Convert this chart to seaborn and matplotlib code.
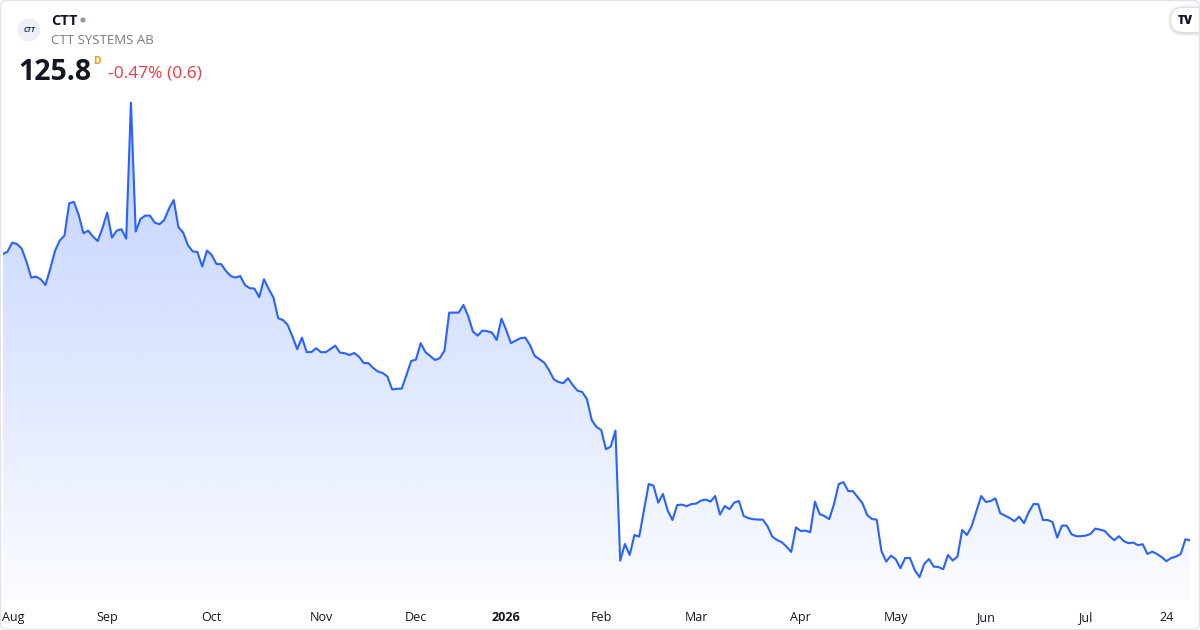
import matplotlib
matplotlib.use("Agg")
import matplotlib.pyplot as plt
import numpy as np
import pandas as pd
import seaborn as sns
from matplotlib.patches import FancyBboxPatch, Circle
from matplotlib.transforms import IdentityTransform, ScaledTranslation

SYMBOL = "CTT"
COMPANY = "CTT SYSTEMS AB"
LAST_PRICE = "125.8"
INTERVAL = "D"
CHANGE_TEXT = "-0.47% (0.6)"

START_DATE = "2025-07-31"
END_DATE = "2026-07-31"
# Stockholm exchange closed days in the period
HOLIDAYS = [
    "2025-12-24", "2025-12-25", "2025-12-26", "2025-12-31",
    "2026-01-01", "2026-01-06", "2026-04-03", "2026-04-06",
    "2026-05-01", "2026-05-14", "2026-06-19",
]
EXTRA_TICK_DATE = "2026-07-24"

# daily close
CLOSE = [
    268.9, 270.2, 274.7, 274.0, 271.7, 265.2, 257.2, 257.7, 256.4, 253.5,
    261.5, 270.5, 275.7, 278.2, 294.4, 295.0, 288.5, 279.4, 280.7, 277.7,
    275.5, 281.9, 289.7, 277.2, 280.7, 281.4, 276.7, 344.7, 280.2, 286.5,
    288.2, 288.2, 284.7, 283.9, 286.0, 291.7, 296.0, 282.4, 279.7, 273.4,
    270.3, 270.0, 262.7, 270.7, 268.5, 264.0, 263.9, 260.5, 258.0, 257.2,
    258.0, 253.5, 251.9, 251.7, 247.4, 256.4, 251.5, 247.2, 236.9, 236.0,
    233.5, 227.7, 221.4, 227.2, 219.9, 220.0, 221.9, 219.9, 219.9, 221.5,
    223.2, 219.7, 219.4, 218.5, 219.5, 217.7, 214.5, 214.4, 212.0, 210.2,
    209.5, 207.7, 201.3, 201.6, 201.7, 208.5, 215.5, 216.2, 224.4, 219.9,
    218.0, 216.0, 216.9, 220.7, 239.7, 239.7, 239.7, 243.5, 238.0, 230.2,
    228.2, 230.7, 230.4, 229.7, 226.0, 236.7, 231.0, 224.4, 225.7, 226.9,
    227.2, 223.5, 218.0, 216.4, 214.7, 211.0, 206.4, 205.0, 204.4, 206.9,
    203.5, 200.7, 200.0, 196.4, 186.0, 182.5, 181.0, 171.4, 172.7, 180.7,
    115.7, 124.0, 118.5, 128.5, 127.7, 141.0, 154.0, 153.2, 144.7, 149.0,
    140.7, 136.0, 143.5, 143.7, 142.9, 144.0, 144.2, 145.7, 146.2, 145.2,
    148.0, 138.7, 143.0, 141.4, 144.7, 145.5, 138.0, 136.9, 136.4, 136.2,
    136.2, 133.0, 127.7, 126.0, 124.9, 122.7, 120.0, 132.3, 130.5, 130.7,
    129.9, 145.2, 138.9, 138.0, 136.4, 143.9, 154.0, 154.9, 150.5, 150.4,
    147.4, 144.4, 138.5, 136.5, 136.2, 120.5, 115.2, 118.2, 116.4, 111.9,
    117.0, 117.0, 111.0, 107.4, 114.0, 116.5, 112.7, 112.5, 111.4, 118.5,
    115.7, 117.7, 131.0, 128.5, 133.0, 140.5, 148.0, 145.0, 145.5, 146.8,
    139.4, 138.2, 137.0, 135.4, 137.7, 134.4, 139.9, 144.0, 143.9, 136.0,
    136.0, 135.0, 127.2, 133.2, 133.2, 128.9, 127.9, 127.9, 128.2, 129.0,
    131.7, 131.2, 130.5, 128.0, 125.9, 127.9, 125.5, 124.4, 124.7, 123.4,
    123.9, 119.0, 120.2, 119.0, 117.4, 115.4, 117.0, 117.7, 119.0, 126.4,
    125.8,
]

LINE_COLOR = "#2962FF"
TEXT_COLOR = "#131722"
W, H = 1200, 630

dates = pd.bdate_range(START_DATE, END_DATE, freq="C", holidays=HOLIDAYS)
df = pd.DataFrame({"date": dates[: len(CLOSE)], "close": CLOSE})
df["bar"] = np.arange(len(df))

# tick on first trading day of every month, "2026" for January
month_key = df["date"].dt.to_period("M")
firsts = df[month_key != month_key.shift()].iloc[1:]
tick_pos = list(firsts["bar"])
tick_lab = [str(d.year) if d.month == 1 else d.strftime("%b") for d in firsts["date"]]
extra = df.loc[df["date"] == pd.Timestamp(EXTRA_TICK_DATE), "bar"]
tick_pos += list(extra)
tick_lab += [pd.Timestamp(EXTRA_TICK_DATE).strftime("%d")]

sns.set_theme(style="white")
plt.rcParams["font.family"] = ["Open Sans", "DejaVu Sans"]

fig = plt.figure(figsize=(W / 100, H / 100), dpi=100)
fig.patch.set_facecolor("white")

x0, x1 = 2.7, 1190.2
ax = fig.add_axes([x0 / W, 30 / H, (x1 - x0) / W, 600 / H])
ax.set_facecolor("none")
y_lo, y_hi = 96, 396

# gradient area under the line
fill = ax.fill_between(df["bar"], df["close"], y_lo, color="none", linewidth=0)
grad = np.zeros((256, 1, 4))
grad[..., :3] = matplotlib.colors.to_rgb(LINE_COLOR)
grad[:, 0, 3] = np.linspace(0.02, 0.30, 256)
im = ax.imshow(grad, extent=(0, len(df) - 1, y_lo, max(CLOSE)), origin="lower",
               aspect="auto", interpolation="bicubic", zorder=1)
im.set_clip_path(fill.get_paths()[0], transform=ax.transData)

sns.lineplot(data=df, x="bar", y="close", color=LINE_COLOR, linewidth=1.5,
             ax=ax, zorder=2)

ax.set_xlim(0, len(df) - 1)
ax.set_ylim(y_lo, y_hi)
ax.set(xlabel=None, ylabel=None)
ax.set_yticks([])
ax.set_xticks(tick_pos)
ax.set_xticklabels(tick_lab, fontsize=9, color=TEXT_COLOR)
ax.tick_params(axis="x", length=0, pad=8)
labels = ax.get_xticklabels()
for lab in labels:
    if lab.get_text().isdigit() and len(lab.get_text()) == 4:
        lab.set_fontweight("bold")
# first label is kept inside the card, like the original widget does
labels[0].set_horizontalalignment("left")
labels[0].set_transform(labels[0].get_transform()
                        + ScaledTranslation(-5.5 / 100, 0, fig.dpi_scale_trans))
sns.despine(ax=ax, left=True, bottom=True)


def px(x, y):
    return x / W, 1 - y / H


# header
fig.patches.append(Circle((29, H - 30), 11.5, transform=IdentityTransform(),
                          facecolor="#eef0f8", edgecolor="none"))
fig.text(*px(29.5, 30), SYMBOL, fontsize=5, fontweight="bold", style="italic",
         color="#1e2d5c", ha="center", va="center")
fig.text(*px(51, 21), SYMBOL, fontsize=10.5, fontweight="bold", color=TEXT_COLOR,
         ha="left", va="center")
fig.patches.append(Circle((83, H - 20), 2.6, transform=IdentityTransform(),
                          facecolor="#9598a1", edgecolor="none"))
fig.text(*px(51, 41), COMPANY, fontsize=9.5, color="#787b86", ha="left", va="center")
fig.text(*px(18, 73), LAST_PRICE, fontsize=20.5, fontweight="bold", color=TEXT_COLOR,
         ha="left", va="center")
fig.text(*px(93, 61), INTERVAL, fontsize=7.5, fontweight="bold", color="#ff9800",
         ha="left", va="center")
fig.text(*px(108, 74), CHANGE_TEXT, fontsize=12.5, color="#F23645",
         ha="left", va="center")

# TradingView badge, top right, with a soft shadow
for grow, alpha in [(3, 0.05), (2, 0.07), (1, 0.10)]:
    fig.patches.append(FancyBboxPatch((1171 - grow, H - 33 - grow), 44 + 2 * grow, 25 + 2 * grow,
                                      boxstyle=f"round,pad=0,rounding_size={12 + grow}",
                                      transform=IdentityTransform(), facecolor="#6a6d78",
                                      alpha=alpha, edgecolor="none", zorder=3))
fig.patches.append(FancyBboxPatch((1171, H - 32), 44, 24, boxstyle="round,pad=0,rounding_size=12",
                                  transform=IdentityTransform(), facecolor="white",
                                  edgecolor="none", zorder=4))
fig.text(*px(1185.5, 20.5), "TV", fontsize=8.5, fontweight="heavy", color=TEXT_COLOR,
         ha="center", va="center", zorder=5)

# card border
fig.patches.append(FancyBboxPatch((0.5, 0.5), W - 1, H - 1, boxstyle="round,pad=0,rounding_size=6",
                                  transform=IdentityTransform(), facecolor="none",
                                  edgecolor="#e0e3eb", linewidth=1, zorder=6))

fig.savefig("out.png", dpi=100, facecolor="white")
